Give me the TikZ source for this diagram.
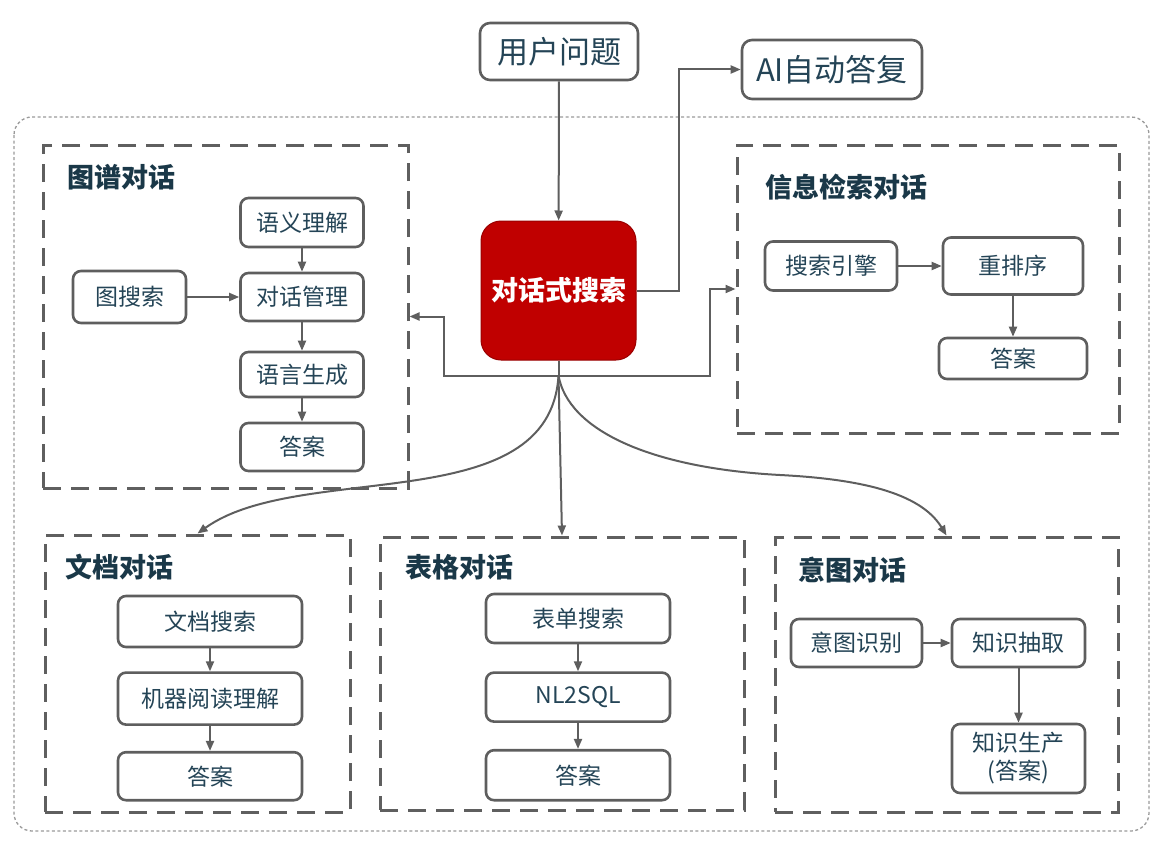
\documentclass[tikz,border=0pt]{standalone}
\usepackage{fontspec}
\setmainfont{Noto Sans CJK SC}
\usepackage{tikz}
\usetikzlibrary{arrows.meta}
\usetikzlibrary{positioning}

\definecolor{linegray}{HTML}{5E5E5E}
\definecolor{framegray}{HTML}{5F5F5F}
\definecolor{outergray}{HTML}{9A9A9A}
\definecolor{textteal}{HTML}{244456}
\definecolor{titleteal}{HTML}{1A3848}
\definecolor{hubred}{HTML}{C00000}

\tikzset{
	box/.style={draw=linegray, line width=2.6pt, rounded corners=8pt, inner sep=0pt, text=textteal, align=center, font=\fontsize{23}{28}\selectfont},
	bigbox/.style={box, rounded corners=10pt, font=\fontsize{31}{34}\selectfont},
	hubbox/.style={draw=hubred!80!black, line width=1pt, fill=hubred, rounded corners=20pt, inner sep=0pt, text=white, font=\fontsize{27}{30}\selectfont\bfseries},
	grp/.style={draw=framegray, line width=3pt, dash pattern=on 18pt off 10pt, inner sep=0pt},
	ttl/.style={anchor=west, inner sep=0pt, text=titleteal, font=\fontsize{27}{30}\selectfont\bfseries},
	conn/.style={draw=linegray, line width=2pt, -{Triangle[length=10pt,width=8pt]}},
	outer/.style={draw=outergray, line width=1.3pt, dash pattern=on 3pt off 2.5pt, rounded corners=18pt}
}

\begin{document}
\begin{tikzpicture}[x=1pt, y=-1pt]

	\useasboundingbox (0,0) rectangle (1166,840);
	\draw[outer] (14,117) rectangle (1149,831);

	\node[bigbox, minimum width=158pt, minimum height=57pt] (usr) at (559,51.5) {用户问题};
	\node[bigbox, minimum width=180pt, minimum height=59pt] (ai) at (832,69.5) {AI自动答复};
	\node[hubbox, minimum width=155pt, minimum height=139pt] (hub) at (558.5,290.5) {对话式搜索};

	\node[grp, minimum width=365pt, minimum height=343pt] (kg) at (225.5,316.5) {};
	\node[grp, minimum width=382pt, minimum height=288pt] (ir) at (928,289) {};
	\node[grp, minimum width=305pt, minimum height=277pt] (doc) at (197.5,673.5) {};
	\node[grp, minimum width=364pt, minimum height=273pt] (tab) at (562,673.5) {};
	\node[grp, minimum width=343pt, minimum height=275pt] (int) at (946.5,674.5) {};

	\node[ttl] (kgt) at (67,177) {图谱对话};
	\node[ttl] (irt) at (765,187) {信息检索对话};
	\node[ttl] (doct) at (65,567) {文档对话};
	\node[ttl] (tabt) at (405,567) {表格对话};
	\node[ttl] (intt) at (798,570) {意图对话};

	\node[box, minimum width=123pt, minimum height=49pt] (kgsem) at (302,222.5) {语义理解};
	\node[box, minimum width=113pt, minimum height=52pt] (kgsearch) at (129.5,297) {图搜索};
	\node[box, minimum width=123pt, minimum height=48pt] (kgmgr) at (302,297) {对话管理};
	\node[box, minimum width=123pt, minimum height=45pt] (kggen) at (302,374.5) {语言生成};
	\node[box, minimum width=123pt, minimum height=48pt] (kgans) at (302,447) {答案};

	\node[box, minimum width=132pt, minimum height=49pt] (ireng) at (831,266) {搜索引擎};
	\node[box, minimum width=140pt, minimum height=57pt] (irrank) at (1013,266) {重排序};
	\node[box, minimum width=148pt, minimum height=41pt] (irans) at (1013,358.5) {答案};

	\node[box, minimum width=184pt, minimum height=51pt] (docsearch) at (210,621.5) {文档搜索};
	\node[box, minimum width=184pt, minimum height=52pt, below=23pt of docsearch] (docread) {机器阅读理解};
	\node[box, minimum width=184pt, minimum height=48pt, below=25pt of docread] (docans) {答案};

	\node[box, minimum width=184pt, minimum height=49pt] (tabsearch) at (578,618.5) {表单搜索};
	\node[box, minimum width=184pt, minimum height=49pt, below=27pt of tabsearch] (tabsql) {NL2SQL};
	\node[box, minimum width=184pt, minimum height=50pt, below=26pt of tabsql] (tabans) {答案};

	\node[box, minimum width=131pt, minimum height=48pt] (intrec) at (856.5,643) {意图识别};
	\node[box, minimum width=133pt, minimum height=48pt] (intext) at (1018.5,643) {知识抽取};
	\node[box, minimum width=133pt, minimum height=69pt] (intgen) at (1018.5,758.5) {知识生产\\(答案)};

	\coordinate (rbend) at (780,475);

	\draw[conn] (usr) -- (hub);
	\draw[conn] (hub.east) -- ++(42,0) |- (ai.west);
	\draw[linegray, line width=2pt] (hub.south) -- ++(0,15) coordinate (fork);
	\draw[conn] (fork) -- ++(-114.5,0) |- (kg.east);
	\draw[conn] (fork) -- ++(151.5,0) |- (ir.west);
	\draw[conn] (fork) -- (tab.north);
	\draw[conn] (fork) .. controls (550,520) and (300,460) .. (doc.north);
	\draw[conn] (fork) .. controls (568,430) and (650,468) .. (rbend) .. controls (858,479) and (920,492) .. (int.north);

	\draw[conn] (kgsem) -- (kgmgr);
	\draw[conn] (kgsearch) -- (kgmgr);
	\draw[conn] (kgmgr) -- (kggen);
	\draw[conn] (kggen) -- (kgans);

	\draw[conn] (ireng) -- (irrank);
	\draw[conn] (irrank) -- (irans);

	\draw[conn] (docsearch) -- (docread);
	\draw[conn] (docread) -- (docans);

	\draw[conn] (tabsearch) -- (tabsql);
	\draw[conn] (tabsql) -- (tabans);

	\draw[conn] (intrec) -- (intext);
	\draw[conn] (intext) -- (intgen);

\end{tikzpicture}
\end{document}
